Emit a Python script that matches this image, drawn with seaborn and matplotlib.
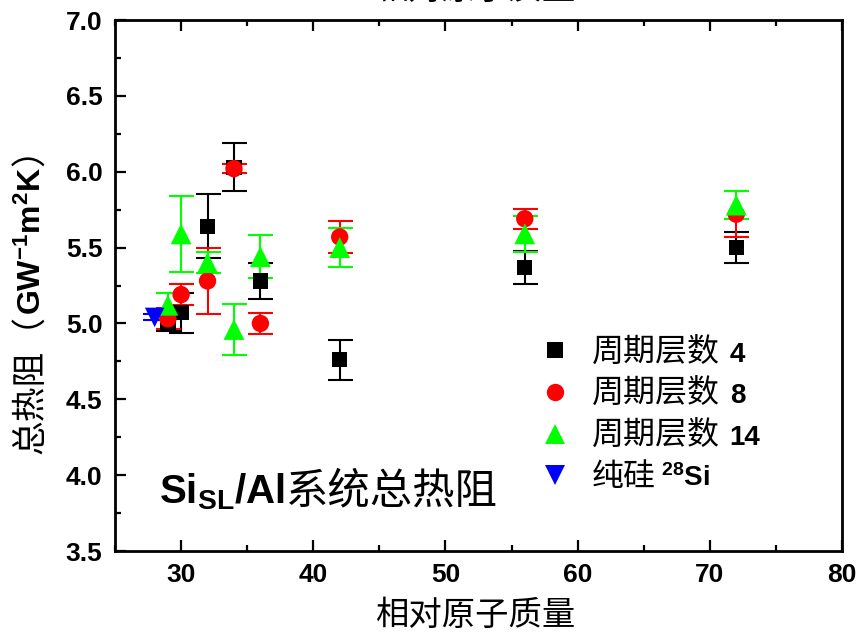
import numpy as np
import pandas as pd
import matplotlib
matplotlib.use("Agg")
import matplotlib.pyplot as plt
import seaborn as sns
from matplotlib.lines import Line2D
from matplotlib.font_manager import FontProperties
from matplotlib.ticker import MultipleLocator
from matplotlib.transforms import IdentityTransform

# ---------------- data ----------------
mass = [29, 30, 32, 34, 36, 42, 56, 72]
r_p4 = [5.00, 5.07, 5.64, 6.03, 5.28, 4.76, 5.37, 5.50]
e_p4 = [0.05, 0.13, 0.21, 0.16, 0.12, 0.13, 0.11, 0.10]
r_p8 = [5.03, 5.19, 5.28, 6.02, 5.00, 5.57, 5.69, 5.72]
e_p8 = [0.07, 0.07, 0.22, 0.03, 0.07, 0.105, 0.065, 0.15]
r_p14 = [5.12, 5.59, 5.40, 4.96, 5.44, 5.50, 5.59, 5.78]
e_p14 = [0.08, 0.25, 0.07, 0.17, 0.14, 0.13, 0.12, 0.09]
mass_si = [28]
r_si = [5.04]
e_si = [0.02]

series_names = ["周期层数 4", "周期层数 8", "周期层数 14", "纯硅 28Si"]
legend_cn = ["周期层数", "周期层数", "周期层数", "纯硅"]
legend_num = ["4", "8", "14", r"$^{28}$Si"]
colors = ["#000000", "#FF0000", "#00FF00", "#0000FF"]
markers = ["s", "o", "^", "v"]
msizes = [11, 12.5, 15, 14]

xs = [mass, mass, mass, mass_si]
ys = [r_p4, r_p8, r_p14, r_si]
es = [e_p4, e_p8, e_p14, e_si]

W, H = 856, 639

sns.set_style("ticks")
plt.rcParams["font.family"] = ["Liberation Sans", "Noto Sans CJK SC", "DejaVu Sans"]
plt.rcParams["mathtext.fontset"] = "custom"
plt.rcParams["mathtext.rm"] = "Liberation Sans:bold"
plt.rcParams["mathtext.bf"] = "Liberation Sans:bold"
plt.rcParams["mathtext.it"] = "Liberation Sans:bold:italic"
plt.rcParams["mathtext.default"] = "rm"
for k in ["text.color", "axes.labelcolor", "xtick.color", "ytick.color", "axes.edgecolor"]:
    plt.rcParams[k] = "black"

fig = plt.figure(figsize=(W / 100, H / 100), dpi=100)
L, R, T, B = 115, 842, 20, 551
ax = fig.add_axes([L / W, 1 - B / H, (R - L) / W, (B - T) / H])

rows = []
for name, x, y in zip(series_names, xs, ys):
    for xi, yi in zip(x, y):
        rows.append({"mass": xi, "value": yi, "series": name})
df = pd.DataFrame(rows)

for i, (x, y, e, c) in enumerate(zip(xs, ys, es, colors)):
    ax.errorbar(x, y, yerr=e, fmt="none", ecolor=c, elinewidth=1.5,
                capsize=9, capthick=1.5, zorder=2 + i * 0.1)

sns.scatterplot(data=df, x="mass", y="value", hue="series", style="series",
                size="series",
                palette=dict(zip(series_names, colors)),
                markers=dict(zip(series_names, markers)),
                sizes=dict(zip(series_names, [m ** 2 for m in msizes])),
                linewidth=0, edgecolor="none", legend=False, zorder=3, ax=ax)

ax.set_xlim(25, 80)
ax.set_ylim(3.5, 7.0)
ax.set_xlabel("")
ax.set_ylabel("")
ax.xaxis.set_major_locator(MultipleLocator(10))
ax.xaxis.set_minor_locator(MultipleLocator(5))
ax.yaxis.set_major_locator(MultipleLocator(0.5))
ax.yaxis.set_minor_locator(MultipleLocator(0.25))
ax.tick_params(which="both", direction="in", top=True, right=False, width=1.6, color="black")
ax.tick_params(which="major", length=8)
ax.tick_params(which="minor", length=4.5)
ax.tick_params(axis="x", which="major", pad=9, labelsize=19, labelcolor="black")
ax.tick_params(axis="y", which="major", pad=9, labelsize=19, labelcolor="black")
for lab in ax.get_xticklabels() + ax.get_yticklabels():
    lab.set_fontweight("bold")
    lab.set_family("Liberation Sans")
for sp in ax.spines.values():
    sp.set_linewidth(2.0)
    sp.set_color("black")
    sp.set_visible(True)

cn_font = "Noto Sans CJK SC"

# legend
handles = [Line2D([], [], marker=m, color=c, linestyle="none", markersize=ms, markeredgewidth=0)
           for m, c, ms in zip(markers, colors, msizes)]
leg = ax.legend(handles, legend_cn, loc="center left",
                bbox_to_anchor=(539 / W, 1 - 415 / H), bbox_transform=fig.transFigure,
                borderaxespad=0, borderpad=0, frameon=False, handlelength=1.0,
                handletextpad=0.65, labelspacing=0.3,
                prop=FontProperties(family=cn_font, size=23))
for t in leg.get_texts():
    t.set_color("black")

# axis labels (Chinese)
fig.text(475 / W, 1 - 615 / H, "相对原子质量", family=cn_font, fontsize=24,
         ha="center", va="center", color="black")
fig.text(475 / W, 1 + 11 / H, "相对原子质量", family=cn_font, fontsize=24,
         ha="center", va="center", color="black")

fig.canvas.draw()
renderer = fig.canvas.get_renderer()

def baseline_of(text):
    bb = text.get_window_extent(renderer)
    prop = text.get_fontproperties()
    _, _, d1 = renderer.get_text_width_height_descent("lp", prop, ismath=False)
    _, _, d2 = renderer.get_text_width_height_descent(text.get_text(), prop, ismath=False)
    return bb, bb.y0 + max(d1, d2)

num_prop = FontProperties(family="Liberation Sans", weight="bold", size=20)
for t, num, gap in zip(leg.get_texts(), legend_num, [10, 10, 10, 5]):
    bb, base = baseline_of(t)
    fig.text(bb.x1 + gap, base, num, fontproperties=num_prop, color="black",
             ha="left", va="baseline", transform=IdentityTransform())

def draw_pieces(x, y, pieces, rotation=0):
    for s, prop, gap in pieces:
        t = fig.text(x, y, s, fontproperties=prop, rotation=rotation, color="black",
                     rotation_mode="anchor", ha="left", va="baseline",
                     transform=IdentityTransform())
        bb = t.get_window_extent(renderer)
        if rotation == 0:
            x = bb.x1 + gap
        else:
            y = bb.y1 + gap

cn25 = FontProperties(family=cn_font, size=25)
bold23 = FontProperties(family="Liberation Sans", weight="bold", size=23)
draw_pieces(41, H - 454, [("总热阻（", cn25, 0),
                          (r"GW$^{-1}$m$^{2}$K", bold23, 0),
                          ("）", cn25, 0)], rotation=90)

draw_pieces(159, H - 503, [(r"Si$_{\mathrm{SL}}$/Al",
                            FontProperties(family="Liberation Sans", weight="bold", size=29), 1),
                           ("系统总热阻", FontProperties(family=cn_font, size=30.5), 0)])

fig.savefig("out.png", dpi=100)
